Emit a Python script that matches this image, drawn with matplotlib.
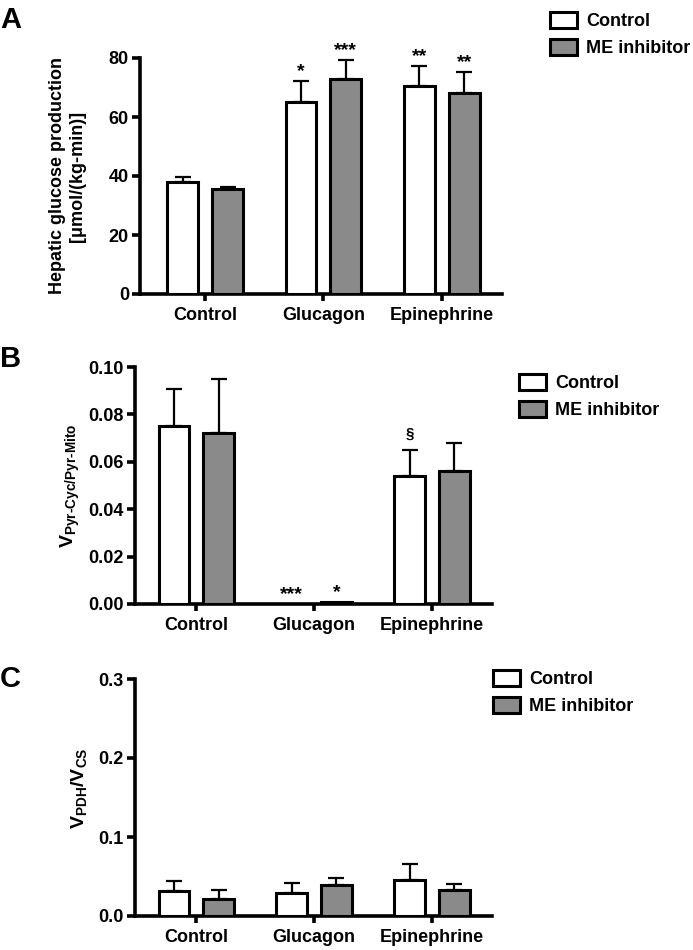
import matplotlib
matplotlib.use("Agg")
import matplotlib.pyplot as plt
import numpy as np

plt.rcParams["font.family"] = "Liberation Sans"
plt.rcParams["font.weight"] = "bold"
plt.rcParams["axes.labelweight"] = "bold"
plt.rcParams["mathtext.fontset"] = "custom"
plt.rcParams["mathtext.rm"] = "Liberation Sans:bold"
plt.rcParams["mathtext.it"] = "Liberation Sans:bold"
plt.rcParams["mathtext.bf"] = "Liberation Sans:bold"
plt.rcParams["mathtext.default"] = "rm"

GRAY = "#8a8a8a"

groups = ["Control", "Glucagon", "Epinephrine"]
series = ["Control", "ME inhibitor"]

# panel A: hepatic glucose production
hgp_ctrl = [38.1, 65.2, 70.5]
hgp_ctrl_err = [1.6, 7.0, 6.9]
hgp_me = [35.6, 72.8, 68.2]
hgp_me_err = [0.7, 6.5, 7.0]
hgp_sig_ctrl = ["", "*", "**"]
hgp_sig_me = ["", "***", "**"]

# panel B: VPC / VPyr-Mito
pc_ctrl = [0.0752, 0.0, 0.0541]
pc_ctrl_err = [0.0156, 0.0, 0.0107]
pc_me = [0.072, 0.001, 0.056]
pc_me_err = [0.023, 0.0, 0.012]
pc_sig_ctrl = ["", "***", "\u00a7"]
pc_sig_me = ["", "*", ""]

# panel C: VPDH / VCS
pdh_ctrl = [0.032, 0.0287, 0.0456]
pdh_ctrl_err = [0.0127, 0.0133, 0.0204]
pdh_me = [0.021, 0.039, 0.033]
pdh_me_err = [0.012, 0.0087, 0.008]
pdh_sig_ctrl = ["", "", ""]
pdh_sig_me = ["", "", ""]

W, H = 693, 950
fig = plt.figure(figsize=(W / 100, H / 100), dpi=100)


def px_axes(left, right, top, bottom):
    return fig.add_axes([left / W, 1 - bottom / H, (right - left) / W, (bottom - top) / H])


def panel(ax, ctrl, ctrl_err, me, me_err, sig_c, sig_me, ymax, yticks, fmt, xlim):
    x = np.arange(len(groups))
    off, bw = 0.19, 0.26
    bars = []
    for vals, errs, sig, dx, face, lab in [(ctrl, ctrl_err, sig_c, -off, "white", series[0]),
                                          (me, me_err, sig_me, off, GRAY, series[1])]:
        b = ax.bar(x + dx, vals, bw, color=face, edgecolor="black", linewidth=2.2,
                   label=lab, zorder=3)
        bars.append(b)
        vals = np.array(vals)
        errs = np.array(errs)
        m = errs > 0
        ax.errorbar(x[m] + dx, vals[m], yerr=[np.zeros(m.sum()), errs[m]], fmt="none",
                    ecolor="black", elinewidth=1.6, capsize=6, capthick=1.6, zorder=2)
        for xi, v, e, s in zip(x + dx, vals, errs, sig):
            if not s:
                continue
            # section sign sits higher and is drawn smaller than the stars
            size, dy = (11, 9) if s == "\u00a7" else (14, 3.5)
            ax.annotate(s, (xi, v + e), xytext=(0, dy), textcoords="offset points",
                        ha="center", va="baseline", fontsize=size, fontweight="bold")
    ax.set_xlim(*xlim)
    ax.set_ylim(0, ymax)
    ax.set_yticks(yticks)
    ax.set_yticklabels([fmt.format(t) for t in yticks])
    ax.set_xticks(x)
    ax.set_xticklabels(groups)
    for s in ["top", "right"]:
        ax.spines[s].set_visible(False)
    for s in ["left", "bottom"]:
        ax.spines[s].set_linewidth(2.6)
    ax.tick_params(axis="both", width=2.6, labelsize=13)
    ax.tick_params(axis="y", length=6, pad=2)
    ax.tick_params(axis="x", length=5, pad=4)
    return bars


def legend(ax, bars, left, top):
    ax.legend(handles=bars, loc="upper left", bbox_to_anchor=(left / W, 1 - top / H),
              bbox_transform=fig.transFigure, frameon=False, fontsize=13,
              handlelength=1.5, handleheight=0.95, handletextpad=0.5,
              labelspacing=0.5, borderpad=0, borderaxespad=0)


# A
axA = px_axes(140, 502, 58, 294)
bA = panel(axA, hgp_ctrl, hgp_ctrl_err, hgp_me, hgp_me_err, hgp_sig_ctrl, hgp_sig_me,
           80, [0, 20, 40, 60, 80], "{:.0f}", (-0.55, 2.51))
axA.set_ylabel("Hepatic glucose production\n[\u03bcmol/(kg-min)]", fontsize=13,
               fontweight="bold")
axA.yaxis.set_label_coords(-0.149, 0.5)
legend(axA, bA, 550, 12)

# B
axB = px_axes(135, 492, 367, 604)
bB = panel(axB, pc_ctrl, pc_ctrl_err, pc_me, pc_me_err, pc_sig_ctrl, pc_sig_me,
           0.10, [0.0, 0.02, 0.04, 0.06, 0.08, 0.10], "{:.2f}", (-0.52, 2.51))
axB.set_ylabel(r"$V_{Pyr\text{-}Cyc/Pyr\text{-}Mito}$", fontsize=14)
axB.yaxis.set_label_coords(-0.148, 0.5)
legend(axB, bB, 519, 374)

# C
axC = px_axes(135, 492, 679, 916)
bC = panel(axC, pdh_ctrl, pdh_ctrl_err, pdh_me, pdh_me_err, pdh_sig_ctrl, pdh_sig_me,
           0.3, [0.0, 0.1, 0.2, 0.3], "{:.1f}", (-0.52, 2.51))
axC.set_ylabel(r"$V_{PDH}/V_{CS}$", fontsize=14)
axC.yaxis.set_label_coords(-0.13, 0.54)
legend(axC, bC, 493, 670)

for letter, ytop in [("A", 28), ("B", 367), ("C", 687)]:
    fig.text(0.0, 1 - ytop / H, letter, fontsize=21, fontweight="bold", va="baseline", ha="left")

fig.savefig("out.png", dpi=100, facecolor="white")
